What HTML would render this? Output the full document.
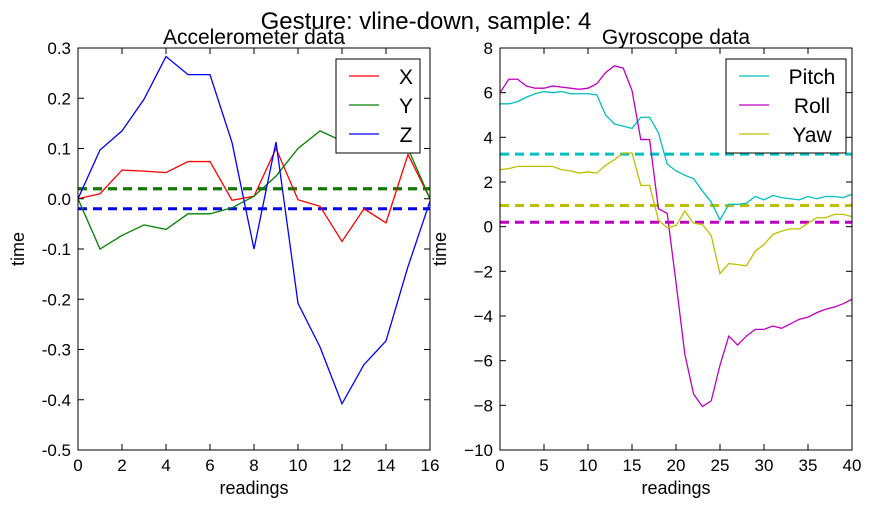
<!DOCTYPE html>
<html><head><meta charset="utf-8"><style>
body{margin:0;background:#fff;}
svg{font-family:"Liberation Sans",sans-serif;}
</style></head><body>
<svg id="c" width="872" height="508" viewBox="0 0 872 508" xmlns="http://www.w3.org/2000/svg">
<text x="426" y="29" font-size="24" text-anchor="middle">Gesture: vline-down, sample: 4</text>
</svg>
<script>
const accX=[0,0.01,0.057,0.055,0.052,0.074,0.074,-0.003,0.005,0.1,-0.002,-0.015,-0.085,-0.02,-0.048,0.088,0];
const accY=[0,-0.1,-0.073,-0.052,-0.061,-0.03,-0.03,-0.018,0.005,0.045,0.1,0.135,0.115,0.12,0.11,0.1,0];
const accZ=[0,0.097,0.135,0.198,0.283,0.247,0.247,0.112,-0.1,0.113,-0.208,-0.295,-0.408,-0.33,-0.283,-0.135,-0.005];
const accMeans=[0.02,0.02,-0.02];
const accXTicks=[0,2,4,6,8,10,12,14,16];
const accYTicks=[0.3,0.2,0.1,0.0,-0.1,-0.2,-0.3,-0.4,-0.5];
const pitch=[5.5,5.5,5.6,5.8,5.95,6.05,6.0,6.05,5.95,5.95,5.95,5.9,5.0,4.6,4.5,4.4,4.9,4.9,4.2,2.8,2.5,2.3,2.15,1.6,1.1,0.3,1.0,1.0,1.05,1.35,1.2,1.4,1.3,1.25,1.2,1.35,1.25,1.35,1.35,1.3,1.45];
const roll=[6.0,6.6,6.6,6.3,6.2,6.2,6.3,6.25,6.2,6.15,6.2,6.4,6.9,7.2,7.1,6.1,3.9,3.9,0.8,0.6,-2.5,-5.7,-7.5,-8.05,-7.8,-6.2,-4.9,-5.3,-4.9,-4.6,-4.6,-4.45,-4.55,-4.35,-4.15,-4.05,-3.85,-3.7,-3.6,-3.45,-3.25];
const yaw=[2.55,2.6,2.7,2.7,2.7,2.7,2.7,2.55,2.5,2.4,2.45,2.4,2.75,3.0,3.3,3.3,1.85,1.85,0.3,-0.05,0.05,0.7,0.15,0.1,-0.4,-2.1,-1.65,-1.7,-1.75,-1.1,-0.8,-0.35,-0.2,-0.1,-0.1,0.15,0.4,0.4,0.55,0.55,0.45];
const gyroMeans=[3.25,0.2,0.95];
const gyroXTicks=[0,5,10,15,20,25,30,35,40];
const gyroYTicks=[8,6,4,2,0,-2,-4,-6,-8,-10];

const svg=document.getElementById('c');
const NS='http://www.w3.org/2000/svg';
function el(t,a,p){const e=document.createElementNS(NS,t);for(const k in a)e.setAttribute(k,a[k]);(p||svg).appendChild(e);return e;}

function panel(o){
  const g=el('g',{});
  
  
  const L=o.x0,R=o.x1,T=48,B=450;
  const sx=v=>L+(v-o.xmin)/(o.xmax-o.xmin)*(R-L);
  const sy=v=>T+(o.ymax-v)/(o.ymax-o.ymin)*(B-T);
  const clip='clip'+o.name;
  const cp=el('clipPath',{id:clip},g);el('rect',{x:L,y:T,width:R-L,height:B-T},cp);
  o.means.forEach((m,i)=>{
    const d=el('line',{x1:L,x2:R,y1:sy(m),y2:sy(m),stroke:o.colors[i],'stroke-width':3,'stroke-dasharray':'9,6','clip-path':`url(#${clip})`},g);
    
    
  });
  o.series.forEach((s,i)=>{
    const p=el('polyline',{points:s.map((v,j)=>sx(j)+','+sy(v)).join(' '),fill:'none',stroke:o.colors[i],'stroke-width':1.3,'clip-path':`url(#${clip})`},g);
    
    
  });
  el('rect',{x:L,y:T,width:R-L,height:B-T,fill:'none',stroke:'#000','stroke-width':1},g);
  o.xt.forEach(t=>{
    const x=sx(t);
    el('line',{x1:x,x2:x,y1:B,y2:B-6,stroke:'#000'},g);el('line',{x1:x,x2:x,y1:T,y2:T+6,stroke:'#000'},g);
    const tx=el('text',{x:x,y:B+21,'font-size':17,'text-anchor':'middle'},g);tx.textContent=t;
    
    
  });
  o.yt.forEach(t=>{
    const y=sy(t);
    el('line',{x1:L,x2:L+6,y1:y,y2:y,stroke:'#000'},g);el('line',{x1:R,x2:R-6,y1:y,y2:y,stroke:'#000'},g);
    const tx=el('text',{x:L-7,y:y+6,'font-size':17,'text-anchor':'end'},g);tx.textContent=o.fmt(t);
    
    
  });
  const ti=el('text',{x:(L+R)/2,y:44,'font-size':21,'text-anchor':'middle'},g);ti.textContent=o.title;
  
  
  const xl=el('text',{x:(L+R)/2,y:494,'font-size':18,'text-anchor':'middle'},g);xl.textContent='readings';
  
  
  const yl=el('text',{x:0,y:0,'font-size':18,'text-anchor':'middle',transform:`translate(${L-54},${(T+B)/2}) rotate(-90)`},g);yl.textContent='time';
  
  
  const lg=el('g',{},g);
  
  
  el('rect',{x:o.lg[0],y:59,width:o.lg[1],height:94,fill:'#fff',stroke:'#000','stroke-width':1},lg);
  o.labels.forEach((lab,i)=>{
    const y=76+i*29;
    el('line',{x1:o.lg[0]+13,x2:o.lg[0]+43,y1:y,y2:y,stroke:o.colors[i],'stroke-width':1.3},lg);
    const t=el('text',{x:o.lg[0]+o.lg[2],y:y+8,'font-size':21,'text-anchor':'middle'},lg);t.textContent=lab;
    
    
  });
}
panel({name:'accelerometer-panel',x0:78,x1:430,xmin:0,xmax:16,ymin:-0.5,ymax:0.3,series:[accX,accY,accZ],means:accMeans,colors:['#ff0000','#008000','#0000ff'],labels:['X','Y','Z'],xt:accXTicks,yt:accYTicks,fmt:v=>v.toFixed(1),title:'Accelerometer data',lg:[336,84,70]});
panel({name:'gyroscope-panel',x0:500,x1:852,xmin:0,xmax:40,ymin:-10,ymax:8,series:[pitch,roll,yaw],means:gyroMeans,colors:['#00bfbf','#bf00bf','#bfbf00'],labels:['Pitch','Roll','Yaw'],xt:gyroXTicks,yt:gyroYTicks,fmt:v=>(v<0?'\u2212'+(-v):''+v),title:'Gyroscope data',lg:[726,120,86]});
</script>
</body></html>
